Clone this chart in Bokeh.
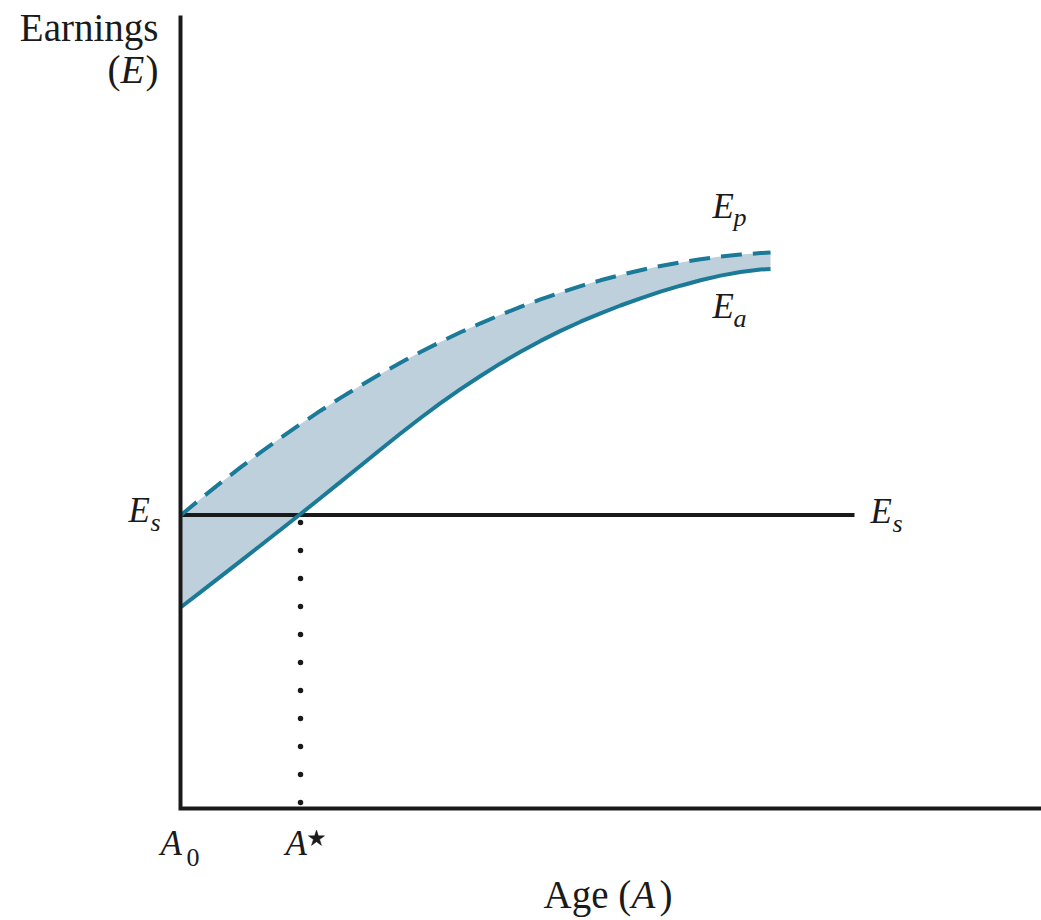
from bokeh.plotting import figure
from bokeh.models import Range1d
from bokeh.core.properties import value
from bokeh.embed import file_html
from bokeh.resources import INLINE

# ---- data (abstract units) ----
age = [0, 2, 4, 6, 8, 10, 12, 14, 16, 18, 20, 22, 24, 26, 28, 30,
       32, 34, 36, 38, 40, 42, 44, 46, 48, 50, 52, 54, 56, 58, 59]
earn_potential = [29.30, 30.96, 32.56, 34.11, 35.61, 37.05, 38.44, 39.78, 41.06, 42.29,
                  43.46, 44.58, 45.65, 46.66, 47.62, 48.52, 49.37, 50.17, 50.91, 51.60,
                  52.24, 52.82, 53.35, 53.83, 54.25, 54.61, 54.93, 55.19, 55.39, 55.54, 55.60]
earn_actual = [20.10, 21.64, 23.19, 24.74, 26.30, 27.87, 29.45, 31.05, 32.66, 34.28,
               35.90, 37.50, 39.05, 40.53, 41.93, 43.25, 44.51, 45.68, 46.76, 47.76,
               48.68, 49.52, 50.30, 51.02, 51.68, 52.28, 52.83, 53.29, 53.65, 53.89, 53.96]
ES = 29.35         # earnings with schooling level s (horizontal line)
ES_END = 67.4      # end of the E_s line
A_STAR = 12.0      # age where actual earnings cross E_s
X_AXIS_END = 86.1
Y_AXIS_END = 79.3

TEAL = "#1b7a97"
FILL = "#bfd0dd"
INK = "#1a1a1a"
SERIF = value("Liberation Serif")

p = figure(width=1041, height=920, output_backend="svg", toolbar_location=None,
           x_range=Range1d(-18.0, 86.1), y_range=Range1d(-11.2, 80.8),
           x_axis_type=None, y_axis_type=None, min_border=0)
p.xgrid.visible = False
p.ygrid.visible = False
p.outline_line_color = None
p.background_fill_color = "white"
p.border_fill_color = "white"

# shaded band between potential and actual earnings
p.varea(x=age, y1=earn_actual, y2=earn_potential, fill_color=FILL, fill_alpha=1.0)

# E_s line
p.line(x=[0, ES_END], y=[ES, ES], line_color=INK, line_width=4)

# curves
p.line(x=age, y=earn_potential, line_color=TEAL, line_width=4, line_dash="21 11")
p.line(x=age, y=earn_actual, line_color=TEAL, line_width=4)

# dotted line at A*
p.line(x=[A_STAR, A_STAR], y=[ES - 0.75, 0], line_color=INK, line_width=5.5,
       line_dash="0 28", line_cap="round")

# axes
p.line(x=[0, 0, X_AXIS_END], y=[Y_AXIS_END, 0, 0], line_color=INK, line_width=4,
       line_join="miter")


def txt(x, y, s, size, style="normal", align="left"):
    # small upward correction so the glyph baseline lands where it is wanted
    p.text(x=[x], y=[y + 0.034 * size], text=[s], text_font=SERIF,
           text_font_size=f"{size}px", text_font_style=style, text_align=align,
           text_baseline="alphabetic", text_color=INK)


# y-axis title
txt(-2.2, 76.8, "Earnings", 39, align="right")
txt(-7.3, 72.6, "(", 39)
txt(-6.0, 72.6, "E", 39, style="italic")
txt(-2.2, 72.6, ")", 39, align="right")

# curve labels
txt(53.2, 59.0, "E", 35, style="italic")
txt(55.3, 58.2, "p", 26, style="italic")
txt(53.2, 49.0, "E", 35, style="italic")
txt(55.3, 48.1, "a", 26, style="italic")

# E_s labels
txt(-5.2, 28.6, "E", 35, style="italic")
txt(-3.0, 27.7, "s", 26, style="italic")
txt(69.0, 28.5, "E", 35, style="italic")
txt(71.2, 27.6, "s", 26, style="italic")

# x labels
txt(-2.0, -4.7, "A", 35, style="italic")
txt(0.6, -5.8, "0", 26)
txt(10.5, -4.7, "A", 35, style="italic")
p.scatter(x=[13.6], y=[-3.0], marker="star", size=17, fill_color=INK,
          line_color=INK, line_width=0.5)

# x-axis title
txt(36.3, -9.9, "Age (", 39)
txt(45.1, -9.9, "A", 39, style="italic")
txt(49.2, -9.9, ")", 39, align="right")

open("out.html", "w").write(file_html(p, INLINE))
